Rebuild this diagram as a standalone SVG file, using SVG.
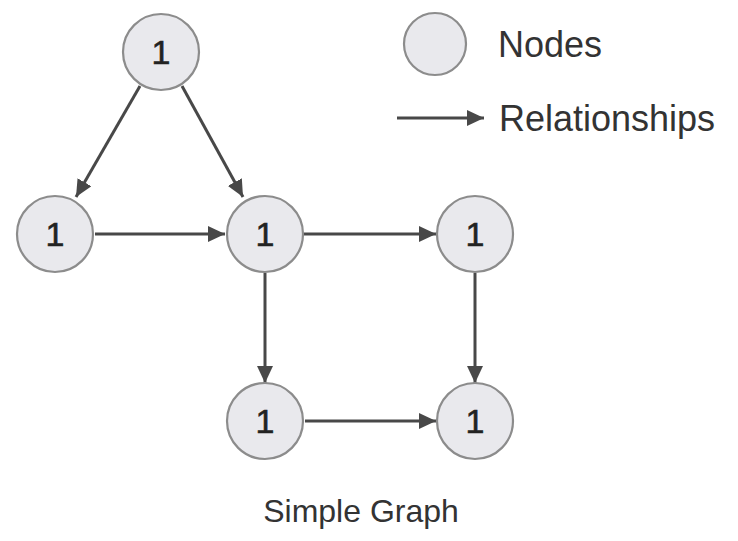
<svg xmlns="http://www.w3.org/2000/svg" width="738" height="541" viewBox="0 0 738 541">
<style>
.node{fill:#e9e9ed;stroke:#8c8c8c;stroke-width:2.2}
.lbl{font-family:"Liberation Sans",Arial,sans-serif;font-size:34px;fill:#222;text-anchor:middle;stroke:#222;stroke-width:0.6}
.txt{font-family:"Liberation Sans",Arial,sans-serif;fill:#333}
.edge{stroke:#484848;stroke-width:3;fill:none;marker-end:url(#arr)}
</style>
<defs>
<marker id="arr" markerUnits="userSpaceOnUse" markerWidth="18" markerHeight="16" refX="17" refY="8" orient="auto">
<path d="M0,0 L17,8 L0,16 Z" fill="#484848"/>
</marker>
</defs>
<rect width="738" height="541" fill="#fff"/>
<g id="connectors">
<line class="edge" x1="140" y1="86" x2="76" y2="197"/>
<line class="edge" x1="182" y1="86" x2="243" y2="197"/>
<line class="edge" x1="95" y1="234" x2="225" y2="234"/>
<line class="edge" x1="304" y1="234" x2="436" y2="234"/>
<line class="edge" x1="265" y1="273" x2="265" y2="383"/>
<line class="edge" x1="475" y1="273" x2="475" y2="383"/>
<line class="edge" x1="305" y1="421" x2="436" y2="421"/>
<line class="edge" x1="397" y1="118" x2="484" y2="118"/>
</g>
<g id="n-top"><circle class="node" cx="161" cy="52" r="38"/><text class="lbl" x="161" y="64">1</text></g>
<g id="n-left"><circle class="node" cx="55" cy="234" r="38"/><text class="lbl" x="55" y="246">1</text></g>
<g id="n-center"><circle class="node" cx="265" cy="234" r="38"/><text class="lbl" x="265" y="246">1</text></g>
<g id="n-right"><circle class="node" cx="475" cy="234" r="38"/><text class="lbl" x="475" y="246">1</text></g>
<g id="n-bottom"><circle class="node" cx="265" cy="421" r="38"/><text class="lbl" x="265" y="433">1</text></g>
<g id="n-bottomright"><circle class="node" cx="475" cy="421" r="38"/><text class="lbl" x="475" y="433">1</text></g>
<g id="legend">
<circle class="node" cx="435" cy="44" r="31"/>
<text class="txt" x="498" y="57" font-size="36">Nodes</text>
<text class="txt" x="499" y="131" font-size="36">Relationships</text>
</g>
<text class="txt" x="361" y="522" font-size="32" text-anchor="middle">Simple Graph</text>
</svg>
